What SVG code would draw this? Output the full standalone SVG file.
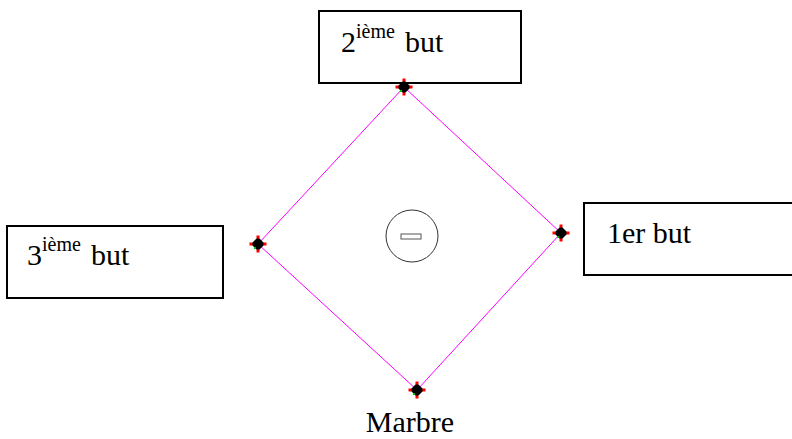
<svg xmlns="http://www.w3.org/2000/svg" width="792" height="439" viewBox="0 0 792 439">
<style>
.box{fill:#fff;stroke:#000;stroke-width:2}
text{font-family:'Liberation Serif','Times New Roman',serif;font-size:30px;fill:#000}
.edge{stroke:#ff00ff;stroke-width:1;fill:none}
.tip{fill:#ff0000}
</style>
<defs>
<g id="base">
<polygon points="0,-7 7,0 0,7 -7,0" fill="#000"/>
<rect class="tip" x="-1.5" y="-8.5" width="3" height="3"/>
<rect class="tip" x="5.5" y="-1.5" width="3" height="3"/>
<rect class="tip" x="-1.5" y="5.5" width="3" height="3"/>
<rect class="tip" x="-8.5" y="-1.5" width="3" height="3"/>
<rect x="-4" y="3" width="2" height="2" fill="#00c000"/>
</g>
</defs>
<g id="connectors">
<polyline class="edge" points="404,87 561,233 417,390 258,244 404,87"/>
</g>
<g id="n2">
<rect class="box" x="319" y="11" width="202" height="72"/>
<text x="341" y="52" font-family="Liberation Serif, serif" font-size="30">2<tspan font-size="20" dy="-14">ième</tspan><tspan dy="14" dx="10">but</tspan></text>
</g>
<g id="n3">
<rect class="box" x="7" y="226" width="216" height="72"/>
<text x="27" y="265" font-family="Liberation Serif, serif" font-size="30">3<tspan font-size="20" dy="-14">ième</tspan><tspan dy="14" dx="10">but</tspan></text>
</g>
<g id="n1">
<rect class="box" x="584" y="203" width="220" height="72"/>
<text x="607" y="243" font-family="Liberation Serif, serif" font-size="30">1er but</text>
</g>
<g id="bases">
<use href="#base" x="404" y="87"/>
<use href="#base" x="561" y="233"/>
<use href="#base" x="417" y="390"/>
<use href="#base" x="258" y="244"/>
</g>
<g id="mound">
<circle cx="412" cy="236" r="26" fill="#fff" stroke="#333" stroke-width="1"/>
<rect x="401" y="234" width="20" height="5" fill="#fff" stroke="#555" stroke-width="1"/>
</g>
<g id="marbre">
<text x="410" y="432" text-anchor="middle" font-family="Liberation Serif, serif" font-size="28">Marbre</text>
</g>
</svg>
